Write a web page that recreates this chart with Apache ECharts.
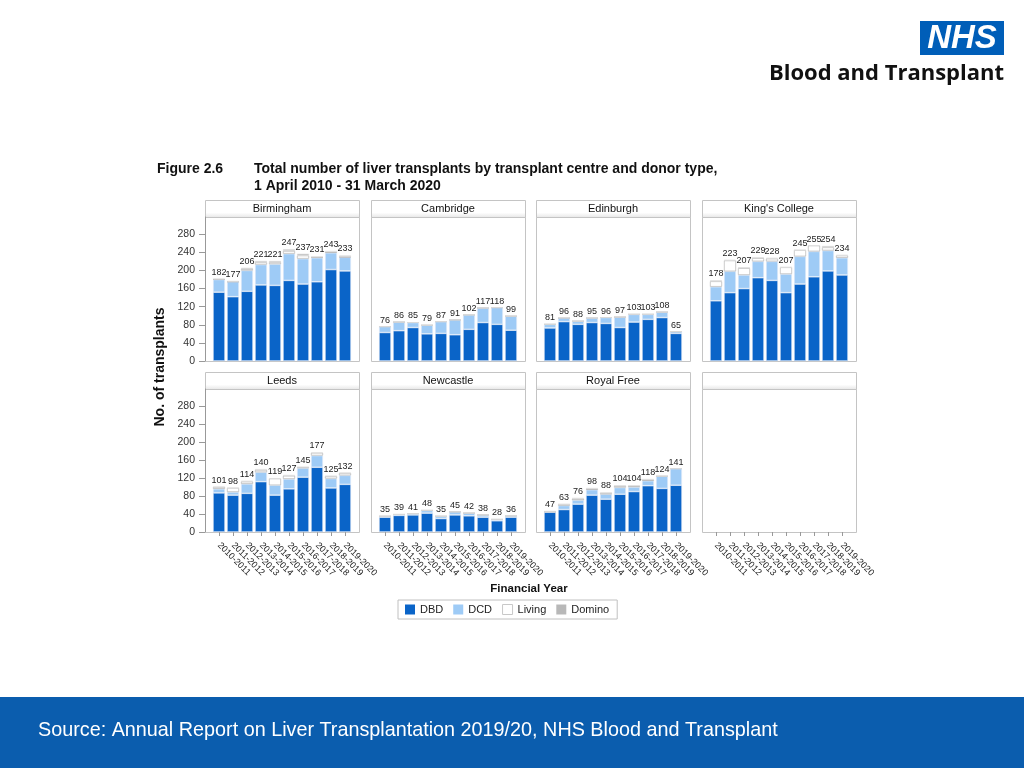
<!DOCTYPE html>
<html>
<head>
<meta charset="utf-8">
<script src="https://cdn.jsdelivr.net/npm/echarts@6.0.0/dist/echarts.min.js"></script>
<style>html,body{margin:0;padding:0;background:#fff;}#chart{width:1024px;height:768px;}</style>
</head>
<body>
<div id="chart"></div>
<script>
// ---- data ----
const years = ['2010-2011','2011-2012','2012-2013','2013-2014','2014-2015','2015-2016','2016-2017','2017-2018','2018-2019','2019-2020'];
const donorTypes = ['DBD','DCD','Living','Domino'];
const yTicks = [0,40,80,120,160,200,240,280];

const birminghamDBD    = [152,142,154,168,167,178,170,175,202,199];
const birminghamDCD    = [28,33,46,45,47,59,56,53,37,30];
const birminghamLiving = [0,0,3,5,4,6,7,1,2,1];
const birminghamDomino = [2,2,3,3,3,4,4,2,2,3];

const cambridgeDBD    = [63,67,74,60,61,58,70,85,81,68];
const cambridgeDCD    = [13,19,11,19,26,33,32,32,37,31];
const cambridgeLiving = [0,0,0,0,0,0,0,0,0,0];
const cambridgeDomino = [0,0,0,0,0,0,0,0,0,0];

const edinburghDBD    = [73,87,81,85,83,74,86,92,96,61];
const edinburghDCD    = [8,8,7,10,13,23,17,11,12,4];
const edinburghLiving = [0,0,0,0,0,0,0,0,0,0];
const edinburghDomino = [0,1,0,0,0,0,0,0,0,0];

const kingsDBD    = [133,151,160,184,178,151,170,186,199,190];
const kingsDCD    = [31,47,30,36,42,41,61,56,45,38];
const kingsLiving = [12,24,15,7,6,15,14,13,7,5];
const kingsDomino = [2,1,2,2,2,0,0,0,3,1];

const leedsDBD    = [87,82,86,112,82,96,122,144,98,106];
const leedsDCD    = [9,7,21,21,22,22,20,26,21,20];
const leedsLiving = [4,9,5,5,15,7,2,6,5,5];
const leedsDomino = [1,0,2,2,0,2,1,1,1,1];

const newcastleDBD    = [33,37,38,42,30,38,36,33,25,33];
const newcastleDCD    = [2,2,3,6,5,7,6,5,3,3];
const newcastleLiving = [0,0,0,0,0,0,0,0,0,0];
const newcastleDomino = [0,0,0,0,0,0,0,0,0,0];

const royalFreeDBD    = [44,50,62,82,73,84,90,103,97,104];
const royalFreeDCD    = [1,9,9,12,11,15,10,11,27,37];
const royalFreeLiving = [0,2,3,2,2,3,2,2,0,0];
const royalFreeDomino = [2,2,2,2,2,2,2,2,0,0];

const panelNames = ['Birmingham','Cambridge','Edinburgh',"King's College",'Leeds','Newcastle','Royal Free',''];
const panelData = [
  [birminghamDBD,birminghamDCD,birminghamLiving,birminghamDomino],
  [cambridgeDBD,cambridgeDCD,cambridgeLiving,cambridgeDomino],
  [edinburghDBD,edinburghDCD,edinburghLiving,edinburghDomino],
  [kingsDBD,kingsDCD,kingsLiving,kingsDomino],
  [leedsDBD,leedsDCD,leedsLiving,leedsDomino],
  [newcastleDBD,newcastleDCD,newcastleLiving,newcastleDomino],
  [royalFreeDBD,royalFreeDCD,royalFreeLiving,royalFreeDomino],
  null
];

// ---- styles / layout ----
const colors = {DBD:'#0a64c8', DCD:'#9ecbf6', Living:'#ffffff', Domino:'#b8b8b8'};
const borders = {DBD:'#e8eef8', DCD:'#e8eef8', Living:'#a8a8a8', Domino:'#e0e0e0'};
const colLeft = [205, 371, 536, 702];
const panelW = 154;
const rowTop = [217, 389];
const rowH = [144, 143];
const headerH = 17;
const font = 'Liberation Sans, Arial, sans-serif';

const grids = [], xAxes = [], yAxes = [], series = [], graphics = [];

for (let i = 0; i < 8; i++) {
  const col = i % 4, row = Math.floor(i / 4);
  grids.push({left: colLeft[col] + 7, top: rowTop[row], width: 140, height: rowH[row], containLabel: false});
  xAxes.push({
    type: 'category', gridIndex: i, data: years,
    axisLine: {show: false},
    axisTick: {show: row === 1, alignWithLabel: true, length: 4, lineStyle: {color: '#999'}},
    axisLabel: {show: row === 1, rotate: -45, fontSize: 9, color: '#222', fontFamily: font, margin: 12, interval: 0}
  });
  yAxes.push({
    type: 'value', gridIndex: i, min: 0, max: 318,
    offset: 7,
    splitLine: {show: false},
    axisLine: {show: col === 0, lineStyle: {color: '#999'}},
    axisTick: {show: col === 0, length: 6, lineStyle: {color: '#999'}, customValues: yTicks},
    axisLabel: {show: col === 0, fontSize: 10.5, color: '#333', fontFamily: font, margin: 10, customValues: yTicks}
  });
  // frame and header strip
  graphics.push({type: 'rect', silent: true, z: -1,
    shape: {x: colLeft[col] + 0.5, y: rowTop[row] + 0.5, width: panelW, height: rowH[row]},
    style: {fill: 'none', stroke: '#c4c4c4', lineWidth: 1}});
  graphics.push({type: 'rect', silent: true,
    shape: {x: colLeft[col] + 0.5, y: rowTop[row] - headerH + 0.5, width: panelW, height: headerH},
    style: {fill: new echarts.graphic.LinearGradient(0,0,0,1,[{offset:0,color:'#ffffff'},{offset:0.7,color:'#ffffff'},{offset:1,color:'#e4e4e4'}]), stroke: '#c4c4c4', lineWidth: 1}});
  graphics.push({type: 'text', silent: true,
    style: {x: colLeft[col] + panelW / 2, y: rowTop[row] - headerH / 2 + 0.5, text: panelNames[i], fill: '#111',
      font: '11px ' + font, textAlign: 'center', textVerticalAlign: 'middle'}});

  const d = panelData[i];
  if (!d) continue;
  const totals = years.map((_, k) => d[0][k] + d[1][k] + d[2][k] + d[3][k]);
  donorTypes.forEach((name, t) => {
    series.push({
      name: name, type: 'bar', stack: 'p' + i, xAxisIndex: i, yAxisIndex: i,
      data: d[t], barWidth: 12,
      itemStyle: {color: colors[name], borderColor: borders[name], borderWidth: 0.6},
      emphasis: {disabled: true}, animation: false
    });
  });
  series.push({
    name: 'Total', type: 'bar', stack: 'p' + i, xAxisIndex: i, yAxisIndex: i,
    data: years.map(() => 0), barWidth: 12, silent: true,
    itemStyle: {color: 'transparent'},
    label: {show: true, position: 'top', distance: 2, fontSize: 9, color: '#222', fontFamily: font,
      formatter: p => String(totals[p.dataIndex])},
    animation: false
  });
}

// texts & decorations
graphics.push(
  {type: 'text', style: {x: 157, y: 169, text: 'Figure 2.6', fill: '#111', font: 'bold 14px ' + font, textVerticalAlign: 'middle'}},
  {type: 'text', style: {x: 254, y: 169, text: 'Total number of liver transplants by transplant centre and donor type,', fill: '#111', font: 'bold 14px ' + font, textVerticalAlign: 'middle'}},
  {type: 'text', style: {x: 254, y: 186, text: '1 April 2010 - 31 March 2020', fill: '#111', font: 'bold 14px ' + font, textVerticalAlign: 'middle'}},
  {type: 'text', rotation: Math.PI / 2, x: 160, y: 367,
    style: {x: 0, y: 0, text: 'No. of transplants', fill: '#111', font: 'bold 14px ' + font, textAlign: 'center', textVerticalAlign: 'middle'}},
  {type: 'text', style: {x: 529, y: 589, text: 'Financial Year', fill: '#111', font: 'bold 11.5px ' + font, textAlign: 'center', textVerticalAlign: 'middle'}},
  // NHS logo
  {type: 'rect', shape: {x: 920, y: 21, width: 84, height: 34}, style: {fill: '#005eb8'}},
  {type: 'text', style: {x: 962, y: 39, text: 'NHS', fill: '#fff', font: 'italic bold 33px ' + font, textAlign: 'center', textVerticalAlign: 'middle'}},
  {type: 'text', style: {x: 1004, y: 74, text: 'Blood and Transplant', fill: '#111', font: 'bold 22px "Open Sans", sans-serif', textAlign: 'right', textVerticalAlign: 'middle'}},
  // footer band
  {type: 'rect', shape: {x: 0, y: 697, width: 1024, height: 71}, style: {fill: '#0b5dae'}},
  {type: 'text', style: {x: 38, y: 731, text: 'Source: Annual Report on Liver Transplantation 2019/20, NHS Blood and Transplant', fill: '#fff', font: '19.8px ' + font, textVerticalAlign: 'middle'}}
);

const chart = echarts.init(document.getElementById('chart'), null, {renderer: 'canvas'});
chart.setOption({
  animation: false,
  backgroundColor: '#fff',
  grid: grids, xAxis: xAxes, yAxis: yAxes, series: series,
  legend: {
    data: donorTypes.map(n => ({name: n, itemStyle: {borderWidth: n === 'Living' ? 1 : 0, borderColor: '#c8c8c8'}})),
    left: 398, top: 600, orient: 'horizontal',
    itemWidth: 10, itemHeight: 10, itemGap: 10, icon: 'rect',
    padding: [4, 8, 4, 7], borderColor: '#c0c0c0', borderWidth: 1,
    textStyle: {fontSize: 11, color: '#222', fontFamily: font},
    selectedMode: false
  },
  graphic: graphics
});
</script>
</body>
</html>
